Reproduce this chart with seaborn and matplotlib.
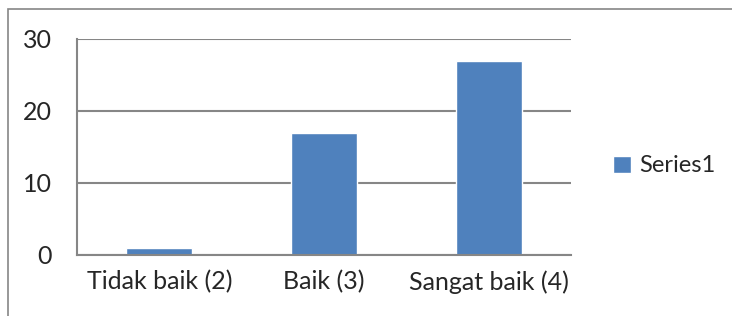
import matplotlib
matplotlib.use("Agg")
import matplotlib.pyplot as plt
from matplotlib.patches import Rectangle
import seaborn as sns

# data
categories = ["Tidak baik (2)", "Baik (3)", "Sangat baik (4)"]
values = [1, 17, 27]
series_name = "Series1"

sns.set_style("white")
plt.rcParams['font.family'] = ['Lato', 'DejaVu Sans']

fig = plt.figure(figsize=(7.32, 3.16), dpi=100)
ax = fig.add_axes([77 / 732, 1 - 255 / 316, (571 - 77) / 732, (255 - 39) / 316])

sns.barplot(x=categories, y=values, color="#4F81BD", width=0.4,
            saturation=1, label=series_name, ax=ax)

grey = "#868686"
ax.set_ylim(0, 30)
ax.set_xlim(-0.5, 2.5)
ax.set_yticks([0, 10, 20, 30])
ax.yaxis.grid(True, color=grey, linewidth=1.5)
ax.set_axisbelow(True)
for s in ["top", "right"]:
    ax.spines[s].set_visible(False)
for s in ["left", "bottom"]:
    ax.spines[s].set_color(grey)
    ax.spines[s].set_linewidth(1.5)

# category boundary ticks like Excel
ax.set_xticks([-0.5, 0.5, 1.5, 2.5], minor=True)
ax.tick_params(axis="x", which="minor", length=7, color=grey, width=1.5)
ax.tick_params(axis="x", which="major", length=0, labelsize=18, pad=11)
ax.tick_params(axis="y", length=6, color=grey, width=1.5, labelsize=18, pad=12)
ax.set_xlabel("")
ax.set_ylabel("")

ax.legend(loc="center left", bbox_to_anchor=(613 / 732, 1 - 166 / 316),
          bbox_transform=fig.transFigure, frameon=False, fontsize=17,
          borderpad=0, borderaxespad=0,
          handlelength=0.75, handleheight=0.75, handletextpad=0.35)

# outer chart border
fig.add_artist(Rectangle((8 / 732, -0.1), 1.2, 1.1 - 9 / 316,
                         transform=fig.transFigure, fill=False,
                         edgecolor=grey, linewidth=1.2))

fig.savefig("out.png", dpi=100)
